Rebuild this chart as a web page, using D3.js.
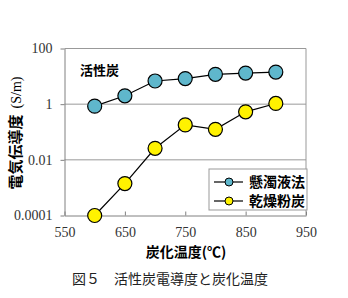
<html>
<head>
  <style>
    body { margin: 0; background: #fff; }
    svg .domain { stroke: #808080; }
    svg .tick line { stroke: #808080; }
    svg .grid { stroke: #999; stroke-width: 1px; }
  </style>
</head>
<body>
  <div id="chart"></div>
  <script src="https://d3js.org/d3.v7.min.js"></script>
  <script>
    // carbonization temperature (C)
    var temps = [600, 650, 700, 750, 800, 850, 900];
    // conductivity S/m
    var suspension = [0.85, 2.0, 6.8, 8.3, 11.8, 13.1, 14.2];   // 懸濁液法
    var dryPowder = [0.0001, 0.0014, 0.026, 0.18, 0.125, 0.53, 1.06]; // 乾燥粉炭
    var xTicks = [550, 650, 750, 850, 950];
    var yTicks = [0.0001, 0.01, 1, 100];
    var yTickLabels = ["0.0001", "0.01", "1", "100"];
    var seriesNames = ["懸濁液法", "乾燥粉炭"];
    var seriesColors = ["#5fb7cc", "#fff200"];

    var SERIF = "'Liberation Serif', 'Times New Roman', serif";
    var JP = "'Noto Sans CJK JP', sans-serif";

    var W = 348, H = 298;
    var plot = { left: 64.5, right: 306, top: 48.5, bottom: 215.5 };

    var svg = d3.select("#chart").append("svg")
      .attr("width", W).attr("height", H);

    var xScale = d3.scaleLinear().domain([550, 950]).range([plot.left, plot.right]);
    var yScale = d3.scaleLog().domain([0.0001, 100]).range([plot.bottom, plot.top]);

    // horizontal grid lines
    svg.selectAll("line.grid")
      .data([0.01, 1])
      .enter().append("line")
        .classed("grid", true)
        .attr("x1", plot.left).attr("x2", plot.right)
        .attr("y1", function (d) { return yScale(d); })
        .attr("y2", function (d) { return yScale(d); });

    // frame top / right
    svg.append("path")
      .attr("d", "M" + plot.left + "," + plot.top + "H" + plot.right + "V" + plot.bottom)
      .attr("fill", "none").attr("stroke", "#999");

    function serifTicks(g) {
      g.attr("font-family", SERIF).attr("font-size", 14);
      g.selectAll(".tick text")
        .style("font-family", SERIF)
        .style("font-size", "14px")
        .style("font-weight", "400")
        .attr("fill", "#333");
    }

    // x axis (ticks inward)
    var xAxis = d3.axisBottom(xScale).tickValues(xTicks).tickSize(-4).tickSizeOuter(0).tickPadding(12);
    svg.append("g")
      .attr("transform", "translate(0," + plot.bottom + ")")
      .call(xAxis)
      .call(serifTicks);

    // y axis
    var yAxis = d3.axisLeft(yScale).tickValues(yTicks)
      .tickFormat(function (d, i) { return yTickLabels[i]; })
      .tickSize(4).tickSizeOuter(0).tickPadding(8);
    svg.append("g")
      .attr("transform", "translate(" + plot.left + ",0)")
      .call(yAxis)
      .call(serifTicks);

    var line = d3.line()
      .x(function (d) { return xScale(d[0]); })
      .y(function (d) { return yScale(d[1]); });

    [suspension, dryPowder].forEach(function (vals, k) {
      var pts = temps.map(function (t, i) { return [t, vals[i]]; });
      svg.append("path")
        .attr("d", line(pts))
        .attr("fill", "none").attr("stroke", "#000").attr("stroke-width", 1.2);
      svg.selectAll("circle.s" + k)
        .data(pts)
        .enter().append("circle")
          .attr("class", "s" + k)
          .attr("cx", function (d) { return xScale(d[0]); })
          .attr("cy", function (d) { return yScale(d[1]); })
          .attr("r", 7)
          .attr("fill", seriesColors[k])
          .attr("stroke", "#000").attr("stroke-width", 1.2);
    });

    // label inside plot
    svg.append("text")
      .style("font-family", JP)
      .attr("x", 80).attr("y", 75)
      .style("font-size", "13px").style("font-weight", "bold")
      .text("活性炭");

    // legend
    var lg = svg.append("g").attr("transform", "translate(209,169)");
    lg.append("rect").attr("width", 98).attr("height", 41)
      .attr("fill", "#fff").attr("stroke", "#999");
    seriesNames.forEach(function (name, k) {
      var y = 13 + k * 19;
      lg.append("line").attr("x1", 5).attr("x2", 34).attr("y1", y).attr("y2", y)
        .attr("stroke", "#000").attr("stroke-width", 1.2);
      lg.append("circle").attr("cx", 20).attr("cy", y).attr("r", 4)
        .attr("fill", seriesColors[k]).attr("stroke", "#000").attr("stroke-width", 1);
      lg.append("text")
        .style("font-family", JP)
        .attr("x", 40).attr("y", y + 5)
        .style("font-size", "14px").style("font-weight", "bold")
        .text(name);
    });

    // axis titles
    var yt = svg.append("text")
      .attr("transform", "translate(21,133) rotate(-90)")
      .attr("text-anchor", "middle");
    yt.append("tspan").style("font-family", JP).style("font-size", "15px").style("font-weight", "bold")
      .text("電気伝導度");
    yt.append("tspan").style("font-family", SERIF).style("font-size", "14px").attr("dx", 6).text("(S/m)");

    svg.append("text")
      .style("font-family", JP)
      .attr("x", 186).attr("y", 257)
      .attr("text-anchor", "middle")
      .style("font-size", "14px").style("font-weight", "bold")
      .text("炭化温度(℃)");

    svg.append("text")
      .style("font-family", JP)
      .attr("x", 72).attr("y", 284)
      .style("font-size", "14px")
      .attr("fill", "#222")
      .text("図５　活性炭電導度と炭化温度");
  </script>
</body>
</html>
